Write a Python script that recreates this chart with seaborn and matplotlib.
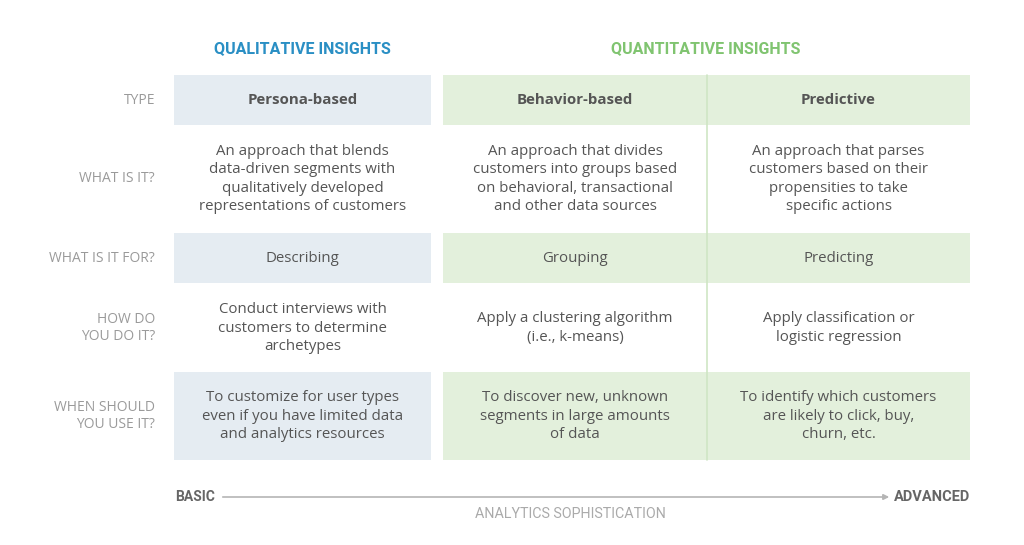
import matplotlib
matplotlib.use("Agg")
import matplotlib.pyplot as plt
import seaborn as sns
import pandas as pd

row_labels = ["TYPE", "WHAT IS IT?", "WHAT IS IT FOR?", "HOW DO\nYOU DO IT?", "WHEN SHOULD\nYOU USE IT?"]
groups = ["QUALITATIVE INSIGHTS", "QUANTITATIVE INSIGHTS"]
persona = [
    "Persona-based",
    "An approach that blends\ndata-driven segments with\nqualitatively developed\nrepresentations of customers",
    "Describing",
    "Conduct interviews with\ncustomers to determine\narchetypes",
    "To customize for user types\neven if you have limited data\nand analytics resources",
]
behavior = [
    "Behavior-based",
    "An approach that divides\ncustomers into groups based\non behavioral, transactional\nand other data sources",
    "Grouping",
    "Apply a clustering algorithm\n(i.e., k-means)",
    "To discover new, unknown\nsegments in large amounts\nof data",
]
predictive = [
    "Predictive",
    "An approach that parses\ncustomers based on their\npropensities to take\nspecific actions",
    "Predicting",
    "Apply classification or\nlogistic regression",
    "To identify which customers\nare likely to click, buy,\nchurn, etc.",
]
axis_ends = ["BASIC", "ADVANCED"]
axis_title = "ANALYTICS SOPHISTICATION"

df = pd.DataFrame({"label": row_labels, "persona": persona,
                   "behavior": behavior, "predictive": predictive})

sns.set_theme(style="white")
plt.rcParams["font.family"] = ["Open Sans", "DejaVu Sans"]

blue_bg = "#e5ecf2"
green_bg = "#e3f0dc"
text_c = "#555555"
label_c = "#9a9a9a"

# layout in pixel space
row_y = [100, 179, 258, 328, 416]
row_band = {0: (75, 125), 2: (233, 283), 4: (372, 460)}
cols = {"persona": (174, 431), "behavior": (443, 707), "predictive": (707, 970)}

fig, ax = plt.subplots(figsize=(10.24, 5.45), dpi=100)
fig.subplots_adjust(0, 0, 1, 1)
ax.set_xlim(0, 1024)
ax.set_ylim(545, 0)
ax.axis("off")

for i, (y0, y1) in row_band.items():
    ax.add_patch(plt.Rectangle((174, y0), 431 - 174, y1 - y0, color=blue_bg, lw=0))
    ax.add_patch(plt.Rectangle((443, y0), 970 - 443, y1 - y0, color=green_bg, lw=0))

ax.plot([707, 707], [75, 460], color="#cfe6c5", lw=1.2)

ax.text(302, 49, groups[0], ha="center", va="center", fontsize=11.5,
        fontweight="bold", color="#2a8fc4", family=["Roboto", "DejaVu Sans"])
ax.text(706, 49, groups[1], ha="center", va="center", fontsize=11.5,
        fontweight="bold", color="#80c470", family=["Roboto", "DejaVu Sans"])

for i, row in df.iterrows():
    y = row_y[i]
    ax.text(155, y, row["label"], ha="right", va="center", fontsize=10,
            color=label_c, linespacing=1.2)
    for key, (x0, x1) in cols.items():
        ax.text((x0 + x1) / 2, y, row[key], ha="center", va="center",
                fontsize=10.8, color=text_c, linespacing=1.32,
                fontweight="bold" if i == 0 else "normal")

ax.annotate("", xy=(892, 497), xytext=(220, 497),
            arrowprops=dict(arrowstyle="-|>", color="#b5b5b5", lw=1.2,
                            mutation_scale=8))
ax.text(175, 497, axis_ends[0], ha="left", va="center", fontsize=10,
        fontweight="bold", color="#666666", family=["Roboto", "DejaVu Sans"])
ax.text(970, 497, axis_ends[1], ha="right", va="center", fontsize=10.5,
        fontweight="bold", color="#666666", family=["Roboto", "DejaVu Sans"])
ax.text(570, 514, axis_title, ha="center", va="center", fontsize=10.3,
        color="#aaaaaa", family=["Roboto", "DejaVu Sans"])

fig.savefig("out.png", dpi=100)
